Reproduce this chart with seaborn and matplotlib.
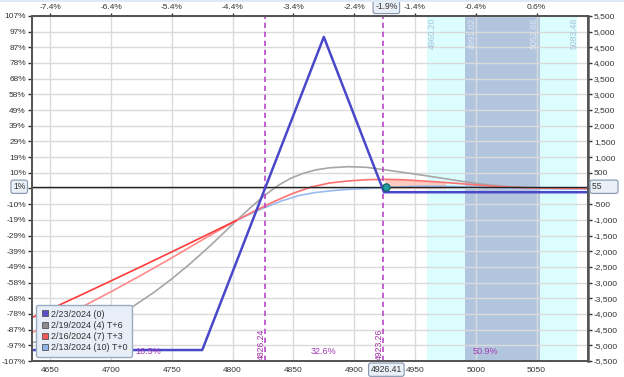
import matplotlib
matplotlib.use("Agg")
import matplotlib.pyplot as plt
import matplotlib.transforms as mtransforms
from matplotlib.lines import Line2D
from matplotlib.patches import Rectangle
import numpy as np
import pandas as pd
import seaborn as sns

# ---------------- data ----------------
price_ticks = [4650, 4700, 4750, 4800, 4850, 4900, 4950, 5000, 5050]
price_tick_labels = ["4650", "4700", "4750", "4800", "4850", "4900", "4950", "5000", "5050"]
pct_move_labels = ["-7.4%", "-6.4%", "-5.4%", "-4.4%", "-3.4%", "-2.4%", "-1.4%", "-0.4%", "0.6%"]

pnl_ticks = [-5500, -5000, -4500, -4000, -3500, -3000, -2500, -2000, -1500, -1000, -500, 0,
             500, 1000, 1500, 2000, 2500, 3000, 3500, 4000, 4500, 5000, 5500]
pnl_tick_labels = ["-5,500", "-5,000", "-4,500", "-4,000", "-3,500", "-3,000", "-2,500", "-2,000",
                   "-1,500", "-1,000", "-500", "", "500", "1,000", "1,500", "2,000", "2,500",
                   "3,000", "3,500", "4,000", "4,500", "5,000", "5,500"]
pnl_pct_labels = ["-107%", "-97%", "-87%", "-78%", "-68%", "-58%", "-49%", "-39%", "-29%", "-19%",
                  "-10%", "", "10%", "19%", "29%", "39%", "49%", "58%", "68%", "78%", "87%",
                  "97%", "107%"]

# expiration 2/23/2024 (0)
exp_x = [4635, 4775, 4875, 4924.5, 5092]
exp_y = [-5150, -5150, 4830, -120, -120]

# 2/19/2024 (4) T+6
t6_x = [4635, 4655, 4675, 4695, 4715, 4735, 4750, 4765, 4782, 4795, 4803, 4815, 4827, 4838,
        4848, 4858, 4868, 4880, 4895, 4910, 4924, 4940, 4955, 4970, 4990, 5005, 5017, 5030,
        5045, 5065, 5092]
t6_y = [-4910, -4800, -4600, -4270, -3840, -3320, -2880, -2400, -1810, -1330, -1030, -600,
        -200, 110, 330, 480, 590, 660, 694, 675, 600, 515, 430, 340, 220, 140, 90, 52, 25, 8, 0]

# 2/16/2024 (7) T+3
t3_x = [4635, 4650, 4675, 4700, 4725, 4750, 4775, 4803, 4820, 4835, 4850, 4865, 4880, 4895,
        4910, 4925, 4940, 4962, 4975, 4990, 5005, 5017, 5030, 5044, 5070, 5092]
t3_y = [-4600, -4300, -3800, -3290, -2760, -2210, -1640, -1020, -680, -400, -150, 50, 175,
        240, 278, 290, 278, 225, 190, 145, 100, 65, 38, 18, 4, 0]

# 2/13/2024 (10) T+0
t0_x = [4635, 4650, 4675, 4700, 4725, 4750, 4775, 4803, 4822, 4840, 4855, 4868, 4882, 4895,
        4910, 4925, 4940, 4955, 4970, 4990, 5020, 5050, 5092]
t0_y = [-4115, -3850, -3400, -2945, -2485, -2020, -1550, -1020, -680, -400, -220, -130, -70,
        -30, 0, 25, 55, 70, 70, 50, 15, -5, -20]

breakevens = [4826.24, 4923.26]
zone_pcts = ["16.5%", "32.6%", "50.9%"]
outer_band = [4960.20, 5083.48]
inner_band = [4991.02, 5052.66]
current_price = 4926.41
current_pnl = 55
legend_labels = ["2/23/2024 (0)", "2/19/2024 (4) T+6", "2/16/2024 (7) T+3", "2/13/2024 (10) T+0"]

# ---------------- style ----------------
sns.set_style("white")
plt.rcParams["font.family"] = ["Liberation Sans", "DejaVu Sans"]
TXT = "#333333"
SP = "#555555"

fig = plt.figure(figsize=(6.24, 3.77), dpi=100)
fig.add_artist(Rectangle((0, 0.995), 1, 0.005, transform=fig.transFigure,
                         color="#dfe9f6", lw=0))
ax = fig.add_axes([0.0513, 0.0424, 0.8905, 0.9154])
ax.set_xlim(4635, 5092)
ax.set_ylim(-5500, 5500)

# bands
ax.axvspan(outer_band[0], outer_band[1], color="#dcfdfd", lw=0, zorder=0.1)
ax.axvspan(inner_band[0], inner_band[1], color="#b2c5df", lw=0, zorder=0.2)

ax.set_axisbelow(True)
ax.grid(True, color="#dadada", lw=1.0)

# salmon fill
t3 = pd.DataFrame({"x": t3_x, "y": t3_y})
seg = t3[(t3.x >= 4925) & (t3.x <= 4975)]
ax.fill_between(seg.x, 0, seg.y, color="#ffb4a4", alpha=0.7, lw=0, zorder=1)

t0 = pd.DataFrame({"x": t0_x, "y": t0_y})
t6 = pd.DataFrame({"x": t6_x, "y": t6_y})
ex = pd.DataFrame({"x": exp_x, "y": exp_y})

kw = dict(ax=ax, estimator=None, sort=False, legend=False)
sns.lineplot(data=t6, x="x", y="y", color="#a6a6a6", lw=1.2, zorder=2, **kw)
sns.lineplot(data=t3[t3.x <= 4803], x="x", y="y", color="#ff8a8a", lw=1.2, zorder=2.2, **kw)
sns.lineplot(data=t3[t3.x >= 4803], x="x", y="y", color="#ff7070", lw=1.2, zorder=2.2, **kw)
sns.lineplot(data=t0[t0.x >= 4803], x="x", y="y", color="#99bbee", lw=1.2, zorder=2.1, **kw)
sns.lineplot(data=t0[t0.x <= 4803], x="x", y="y", color="#ff3a3a", lw=1.2, zorder=2.3, **kw)
ax.axhline(current_pnl, color="#222222", lw=1.0, zorder=2.5)
sns.lineplot(data=ex, x="x", y="y", color="#4a48c8", lw=1.8, zorder=4, **kw)

for b in breakevens:
    ax.axvline(b, color="#b848c8", lw=1.2, ls=(0, (3.2, 2.2)), zorder=3)
    ax.text(b - 3, -5470, f"{b:.2f}", rotation=90, ha="center", va="bottom",
            color="#a030a8", fontsize=6.2, zorder=5)

for xp, lab in zip([4730.5, 4874.5, 5008], zone_pcts):
    ax.text(xp, -5200, lab, ha="center", va="center", color="#a23ab4", fontsize=6.5, zorder=5)

for xv, dx, col in [(outer_band[0], 4, "#a4c4dc"), (inner_band[0], 6, "#dfe7f3"),
                    (inner_band[1], -5, "#dfe7f3"), (outer_band[1], -3, "#a4c4dc")]:
    ax.text(xv + dx, 5440, f"{xv:.2f}", rotation=90, ha="center", va="top",
            color=col, fontsize=6.2, zorder=5)

ax.scatter([current_price], [current_pnl], s=28, color="#1e9e9e", edgecolor="#0d5f5f",
           lw=0.8, zorder=6)

# axes ticks
ax.set_xticks(price_ticks)
ax.set_xticklabels(price_tick_labels)
ax.set_yticks(pnl_ticks)
ax.set_yticklabels(pnl_pct_labels)
ax.set_xlabel("")
ax.set_ylabel("")
ax.tick_params(axis="both", labelsize=6, colors=TXT, length=3, width=1, pad=1.5)
ax.tick_params(axis="x", length=0, pad=4)

ax2 = ax.twinx()
ax2.set_ylim(-5500, 5500)
ax2.set_yticks(pnl_ticks)
ax2.set_yticklabels(pnl_tick_labels)
ax2.tick_params(axis="y", labelsize=6, colors=TXT, length=3, width=1, pad=1.5)
ax2.grid(False)

ax3 = ax.twiny()
ax3.set_xlim(4635, 5092)
ax3.set_xticks(price_ticks)
ax3.set_xticklabels(pct_move_labels)
ax3.tick_params(axis="x", labelsize=6, colors=TXT, length=2, width=1, pad=1.5)
ax3.grid(False)

for a in (ax, ax2, ax3):
    for s in a.spines.values():
        s.set_color(SP)
        s.set_linewidth(1.2)
ax2.spines["right"].set_linewidth(1.8)
ax.spines["left"].set_color("#444444")

# boxed cursor labels
box = dict(boxstyle="round,pad=0.25", fc="#eaf0f8", ec="#8494ad", lw=0.8)
bt = mtransforms.blended_transform_factory(ax.transData, ax.transAxes)
ax.text(current_price, -0.012, f"{current_price:.2f}", transform=bt, ha="center", va="top",
        fontsize=6.2, color=TXT, bbox=box, zorder=10, clip_on=False)
ax.text(current_price, 1.013, "-1.9%", transform=bt, ha="center", va="bottom",
        fontsize=6.2, color=TXT, bbox=box, zorder=10, clip_on=False)
lt = mtransforms.blended_transform_factory(ax.transAxes, ax.transData)
ax.text(-0.012, current_pnl, "1%", transform=lt, ha="right", va="center",
        fontsize=6.2, color=TXT, bbox=box, zorder=10, clip_on=False)
ax2.text(1.008, current_pnl, "55      ", transform=lt, ha="left", va="center",
         fontsize=6.2, color=TXT, bbox=box, zorder=10, clip_on=False)

# legend
handles = [Line2D([], [], marker="s", ls="", markersize=5, markerfacecolor=c,
                  markeredgecolor="#555555", markeredgewidth=0.6)
           for c in ["#5b52c9", "#8c8c8c", "#f05a5a", "#8fb4ea"]]
leg = ax.legend(handles, legend_labels, loc="lower left", bbox_to_anchor=(0.007, 0.012),
                borderaxespad=0, fontsize=6.5, frameon=True, fancybox=True,
                handletextpad=0.2, handlelength=1.0, labelspacing=0.25, borderpad=0.5,
                labelcolor=TXT)
leg.get_frame().set_facecolor("#e8eef7")
leg.get_frame().set_edgecolor("#9aabc0")
leg.get_frame().set_alpha(1)
leg.set_zorder(8)

fig.savefig("out.png", dpi=100)
